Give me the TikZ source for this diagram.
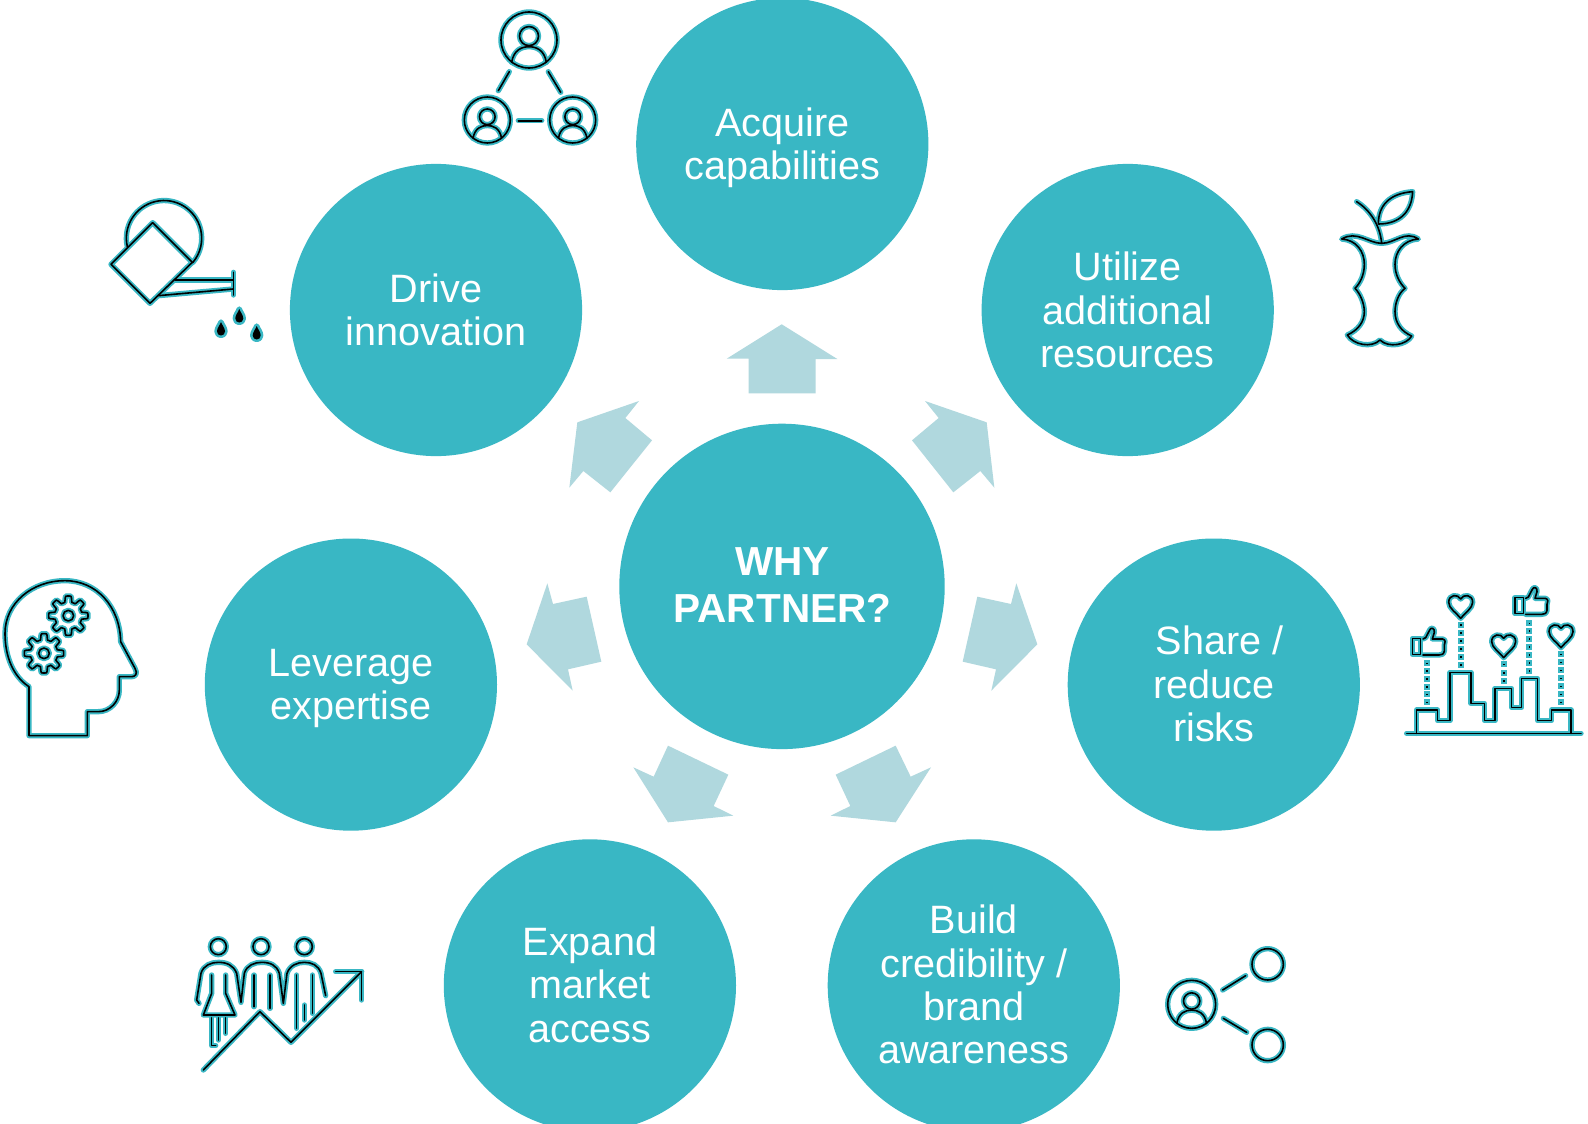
\documentclass[tikz,border=0pt]{standalone}
\usepackage{fontspec}
\setmainfont{Liberation Sans}
\definecolor{tealc}{HTML}{39B7C4}
\definecolor{arrowc}{HTML}{B0D8DE}
\tikzset{
  bub/.style={inner sep=0pt,text=white,align=center,
     font=\fontsize{29.7}{32.5}\selectfont},
  hub/.style={inner sep=0pt,text=white,align=center,
     font=\fontsize{30.4}{34.8}\selectfont\bfseries},
  disc/.style={fill=tealc},
  blockarrow/.style={fill=arrowc,draw=none},
  zoomA/.style={shift={(520,320)},scale=1/3},
  zoomB/.style={shift={(780,320)},scale=1/3},
  zoomC/.style={shift={(520,580)},scale=1/3},
  zoomD/.style={shift={(780,580)},scale=1/3},
  icpass/.style={ic/.style={draw=tealc,line width=4pt,line cap=round,line join=round},
                 icf/.style={draw=tealc,fill=tealc,line width=4pt,line join=round},
                 icd/.style={fill=tealc}},
  bkpass/.style={ic/.style={draw=black,line width=1.2pt,line cap=round,line join=round},
                 icf/.style={draw=none,fill=black},
                 icd/.style={fill=black}}
}
\newcommand\peep[3]{\begin{scope}[shift={(#1,#2)},scale=#3]
  \draw[ic] (0,0) circle[radius=1];
  \draw[ic] (0,-.14) circle[radius=.34];
  \draw[ic] (-.62,.8) .. controls (-.55,.35) and (-.25,.24) .. (0,.24) .. controls (.25,.24) and (.55,.35) .. (.62,.8);
\end{scope}}
\newcommand\waterdrop[2]{\begin{scope}[shift={(#1,#2)}]
  \path[icf] (0,-7) .. controls (1,-4) and (4,-1) .. (4,2.5) .. controls (4,5) and (2,6.5) .. (0,6.5)
     .. controls (-2,6.5) and (-4,5) .. (-4,2.5) .. controls (-4,-1) and (-1,-4) .. (0,-7) -- cycle;
\end{scope}}
\newcommand\heartshape[2]{\begin{scope}[shift={(#1,#2)}]
  \draw[ic] (0,-18) .. controls (-8,-34) and (-36,-32) .. (-36,-8) .. controls (-36,10) and (-12,24) .. (0,40)
     .. controls (12,24) and (36,10) .. (36,-8) .. controls (36,-32) and (8,-34) .. (0,-18) -- cycle;
\end{scope}}
\newcommand\thumbshape[2]{\begin{scope}[shift={(#1,#2)}]
  \draw[ic] (52,190) rectangle (77,238);
  \draw[ic] (84,192) -- (92,188) -- (104,165) .. controls (108,155) and (120,160) .. (118,172)
     -- (112,192) -- (143,192) .. controls (152,194) and (152,204) .. (148,210) -- (148,228)
     .. controls (146,238) and (140,240) .. (132,240) -- (84,240);
\end{scope}}
\newcommand\dotcol[2]{\foreach \yy in {#2}{
  \path[icd] ({#1-\dsz},{\yy-\dsz}) rectangle ({#1+\dsz},{\yy+\dsz});}}
\newcommand\gearshape[2]{\begin{scope}[shift={(#1,#2)}]
  \draw[ic] plot[domain=0:360,samples=145,smooth] ({\x}:{50+9*max(-1,min(1,2.5*cos(8*\x)))}) -- cycle;
  \draw[ic] (0,0) circle[radius=16];
\end{scope}}
\newcommand\iconset{%
  % three people
  \peep{529}{40}{28}\peep{487.3}{120}{23}\peep{572.7}{120}{23}
  \draw[ic] (509.3,71.7) -- (498.3,90.7);
  \draw[ic] (548.3,71.7) -- (560.7,92.3);
  \draw[ic] (518.3,120.7) -- (541.7,120.7);
  % watering can
  \begin{scope}[shift={(95,185)},scale=1/3]
    \draw[ic] (173,113) -- (292,232) -- (165,355) -- (48,238) -- cycle;
    \draw[ic] (97,185) arc[start angle=167,end angle=400,radius=113];
    \draw[ic] (240,285) -- (415,285);
    \draw[ic] (190,332) -- (415,312);
    \draw[ic] (415,262) -- (415,330);
  \end{scope}
  \waterdrop{221}{329}\waterdrop{239.3}{316}\waterdrop{256.7}{333}
  % apple core
  \begin{scope}[shift={(1320,175)},scale=1/3]
    \draw[ic] (65,192) .. controls (110,165) and (145,205) .. (185,205) .. controls (225,205) and (255,165) .. (295,192)
      .. controls (250,195) and (225,230) .. (225,268) .. controls (225,300) and (240,325) .. (255,340)
      .. controls (235,355) and (225,385) .. (225,410) .. controls (225,445) and (245,470) .. (275,483)
      .. controls (260,510) and (205,520) .. (180,495) .. controls (155,520) and (100,510) .. (82,480)
      .. controls (115,465) and (133,440) .. (133,410) .. controls (133,385) and (120,355) .. (105,340)
      .. controls (120,325) and (133,300) .. (133,268) .. controls (133,230) and (110,195) .. (65,192) -- cycle;
    \draw[ic] (110,80) .. controls (150,105) and (180,150) .. (185,205);
    \draw[ic] (175,147) .. controls (175,90) and (210,55) .. (278,50) .. controls (275,110) and (240,147) .. (175,147) -- cycle;
  \end{scope}
  % chart
  \begin{scope}[shift={(1395,575)},scale=1/3]
    \draw[ic] (35,475) -- (558,475);
    \draw[ic] (65,475) -- (65,405) -- (128,405) -- (128,437) -- (165,437) -- (165,292) -- (228,292) -- (228,385)
      -- (268,385) -- (268,437) -- (300,437) -- (300,340) -- (350,340) -- (350,397) -- (380,397) -- (380,310)
      -- (428,310) -- (428,437) -- (470,437) -- (470,405) -- (528,405) -- (528,475);
    \dotcol{95}{265,288,312,335,358,382}
    \dotcol{197}{150,173,197,221,245,270}
    \dotcol{326}{268,293,318}
    \dotcol{403}{145,168,192,216,240,263,287}
    \dotcol{498}{238,262,286,310,334,358,382}
    \heartshape{197}{90}\heartshape{326}{208}\heartshape{498}{178}
    \thumbshape{0}{0}\thumbshape{308}{-122}
  \end{scope}
  % head with gears
  \begin{scope}[shift={(0,570)},scale=1/3]
    \draw[ic] (87,350) .. controls (40,320) and (15,260) .. (15,190) .. controls (15,100) and (95,32) .. (195,32)
      .. controls (290,32) and (360,110) .. (362,215) -- (405,295) .. controls (415,312) and (405,320) .. (395,320)
      -- (358,320) -- (358,360) .. controls (358,395) and (330,425) .. (295,425) -- (262,425) -- (262,497) -- (87,497) -- cycle;
    \gearshape{205}{137}\gearshape{132}{250}
  \end{scope}
  % people and rising arrow
  \begin{scope}[shift={(185,925)},scale=1/3]
    \draw[ic] (100,65) circle[radius=24];
    \draw[ic] (228,65) circle[radius=24];
    \draw[ic] (358,65) circle[radius=24];
    \draw[ic] (42,235) -- (35,225) -- (48,145) .. controls (55,120) and (80,112) .. (100,112) .. controls (125,112) and (145,120) .. (155,145)
       -- (168,232) -- (178,145) .. controls (185,120) and (210,112) .. (230,112) .. controls (255,112) and (275,120) .. (283,145)
       -- (295,235) -- (306,145) .. controls (315,120) and (338,112) .. (358,112) .. controls (380,112) and (400,120) .. (408,145) -- (422,212);
    \draw[ic] (80,150) -- (80,205) -- (55,270) -- (150,270) -- (122,205) -- (122,150);
    \draw[ic] (80,278) -- (80,362) -- (92,362);
    \draw[ic] (100,278) -- (100,345);
    \draw[ic] (122,278) -- (122,325);
    \draw[ic] (207,150) -- (207,245);
    \draw[ic] (255,150) -- (255,250);
    \draw[ic] (335,150) -- (335,310);
    \draw[ic] (382,150) -- (382,265);
    \draw[ic] (358,240) -- (358,285);
    \draw[ic] (55,435) -- (225,260) -- (318,352) -- (530,140);
    \draw[ic] (452,140) -- (530,140) -- (530,225);
  \end{scope}
  % person and two circles
  \begin{scope}[shift={(1155,935)},scale=1/3]
    \peep{110}{208}{72}
    \draw[ic] (338,88) circle[radius=47];
    \draw[ic] (338,330) circle[radius=47];
    \draw[ic] (203,165) -- (272,122);
    \draw[ic] (205,250) -- (275,292);
  \end{scope}
}
\begin{document}
\begin{tikzpicture}[x=0.75pt,y=-0.75pt]
\useasboundingbox (0,0) rectangle (1588,1124);
\clip (0,0) rectangle (1588,1124);
\fill[white] (0,0) rectangle (1588,1124);
% block arrows
\fill[blockarrow] (781.7,324.3) -- (837.3,359) -- (815.7,359) -- (815.7,393.3) -- (748.7,393.3) -- (748.7,358.7) -- (726.7,358.7) -- cycle;
\begin{scope}[zoomA]\fill[blockarrow] (172,307) -- (357,243) -- (316,294) -- (396,361) -- (271,517) -- (190,453) -- (148,503) -- cycle;\end{scope}
\begin{scope}[zoomB]\fill[blockarrow] (620,307) -- (643,503) -- (601,453) -- (520,517) -- (396,361) -- (476,294) -- (435,243) -- cycle;\end{scope}
\begin{scope}[zoomC]
  \fill[blockarrow] (20,193) -- (82,10) -- (99,72) -- (200,50) -- (244,245) -- (144,268) -- (158,332) -- cycle;
  \fill[blockarrow] (444,727) -- (340,562) -- (401,590) -- (444,497) -- (625,584) -- (581,678) -- (640,707) -- cycle;
\end{scope}
\begin{scope}[zoomD]
  \fill[blockarrow] (772,193) -- (634,332) -- (648,268) -- (548,245) -- (592,50) -- (693,72) -- (709,10) -- cycle;
  \fill[blockarrow] (347,727) -- (152,707) -- (211,678) -- (167,584) -- (347,497) -- (392,590) -- (453,562) -- cycle;
\end{scope}
% circles
\fill[disc] (782,586.4) circle[radius=162.7];
\fill[disc] (782.3,144) circle[radius=146.1];
\fill[disc] (1127.7,310) circle[radius=146.1];
\fill[disc] (1213.8,684.6) circle[radius=146.1];
\fill[disc] (973.8,985.4) circle[radius=146.1];
\fill[disc] (589.9,985.4) circle[radius=146.1];
\fill[disc] (350.9,684.6) circle[radius=146.1];
\fill[disc] (436,310) circle[radius=146.1];
\node[hub] (why) at (782.5,585) {WHY\\PARTNER?};
\node[bub] (acquire) at (782.3,147.5) {Acquire\\capabilities};
\node[bub] (utilize) at (1127.7,310) {Utilize\\additional\\resources};
\node[bub] (share) at (1213.8,684) {\hspace*{9pt}Share /\\reduce\\risks};
\node[bub] (build) at (973.8,984.6) {Build\\credibility /\\brand\\awareness};
\node[bub] (expand) at (589.9,984.6) {Expand\\market\\access};
\node[bub] (leverage) at (350.9,688.6) {Leverage\\expertise};
\node[bub] (drive) at (436,310) {Drive\\innovation};
% icons: halo pass, then line pass
\begin{scope}[icpass]\def\dsz{9}\iconset\end{scope}
\begin{scope}[bkpass]\def\dsz{2.5}\iconset\end{scope}
\end{tikzpicture}
\end{document}
